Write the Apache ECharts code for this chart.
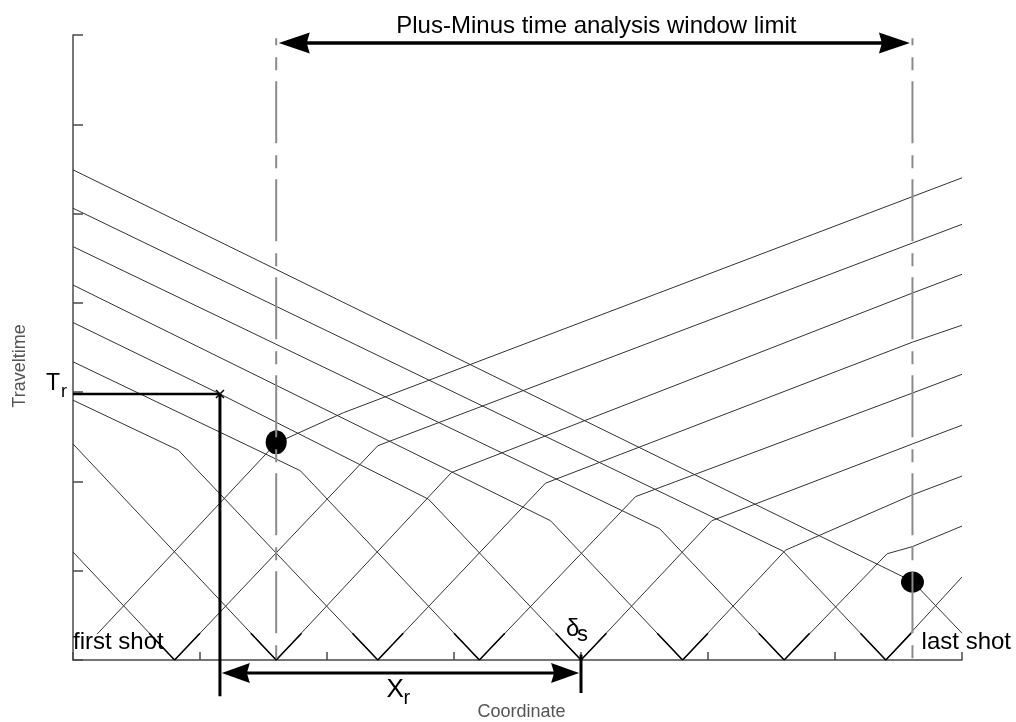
<!DOCTYPE html>
<html><head><meta charset="utf-8">
<script src="https://cdn.jsdelivr.net/npm/echarts@6/dist/echarts.min.js"></script>
<style>html,body{margin:0;padding:0;background:#fff}#c{width:1016px;height:722px}</style>
</head><body><div id="c"></div>
<script>
// ---- data (x: coordinate units, y: traveltime units) ----
const shotX = [0, 0.8, 1.6, 2.4, 3.2, 4.0, 4.8, 5.6, 6.4, 7.2];
const xTicks = [0, 1, 2, 3, 4, 5, 6, 7];
const yTicks = [0, 1, 2, 3, 4, 5, 6, 7];

// forward (right-going) traveltime branches, shot 0..8
const fwd0 = [[0.19,0.29],[1.6,2.43],[2.13,2.77],[6.61,5.19],[7.0,5.40]];
const fwd1 = [[0.8,0],[2.4,2.40],[6.61,4.67],[7.0,4.88]];
const fwd2 = [[1.6,0],[2.98,2.10],[6.61,4.11],[7.0,4.32]];
const fwd3 = [[2.4,0],[3.72,1.98],[6.61,3.56],[7.0,3.75]];
const fwd4 = [[3.2,0],[4.43,1.83],[6.61,2.99],[7.0,3.20]];
const fwd5 = [[4.0,0],[5.03,1.56],[6.61,2.42],[7.0,2.63]];
const fwd6 = [[4.8,0],[5.61,1.23],[6.61,1.85],[7.0,2.06]];
const fwd7 = [[5.6,0],[6.41,1.19],[6.61,1.27],[7.0,1.50]];
const fwd8 = [[6.4,0],[7.0,0.93]];

// reverse (left-going) traveltime branches, shot 1..9
const rev1 = [[0.8,0],[0,1.21]];
const rev2 = [[1.6,0],[0,2.42]];
const rev3 = [[2.4,0],[0.83,2.35],[0,2.91]];
const rev4 = [[3.2,0],[1.79,2.12],[0,3.34]];
const rev5 = [[4.0,0],[2.80,1.80],[1.157,2.98],[0,3.78]];
const rev6 = [[4.8,0],[3.76,1.56],[0,4.20]];
const rev7 = [[5.6,0],[4.62,1.47],[0,4.63]];
const rev8 = [[6.4,0],[5.59,1.22],[0,5.06]];
const rev9 = [[7.0,0.30],[6.61,0.88],[0,5.49]];

// darker segments right at each shot point
const apexV = [
  [[0.6,0.3],[0.8,0],[1.0,0.3]],
  [[1.4,0.3],[1.6,0],[1.8,0.3]],
  [[2.2,0.3],[2.4,0],[2.6,0.3]],
  [[3.0,0.3],[3.2,0],[3.4,0.3]],
  [[3.8,0.3],[4.0,0],[4.2,0.3]],
  [[4.6,0.3],[4.8,0],[5.0,0.3]],
  [[5.4,0.3],[5.6,0],[5.8,0.3]],
  [[6.2,0.3],[6.4,0],[6.6,0.3]]
];

// plus-minus window limits and the points where they meet the branches
const windowLimitX = [1.6, 6.61];
const windowTop = 6.965;
const windowPoints = [[1.6,2.44],[6.61,0.873]];

// receiver annotation
const receiverX = 1.157;
const receiverT = 2.98;
const deltaShotX = 4.0;

const forward = [fwd0,fwd1,fwd2,fwd3,fwd4,fwd5,fwd6,fwd7,fwd8];
const reverse = [rev1,rev2,rev3,rev4,rev5,rev6,rev7,rev8,rev9];

const FONT = '"Liberation Sans", Arial, Helvetica, sans-serif';
const chart = echarts.init(document.getElementById('c'), null, {renderer:'canvas'});

const series = [];
forward.concat(reverse).forEach(function(d){
  series.push({type:'line', data:d, symbol:'none', silent:true,
    lineStyle:{color:'#333', width:1}, z:2});
});
apexV.forEach(function(d){
  series.push({type:'line', data:d, symbol:'none', silent:true,
    lineStyle:{color:'#000', width:1.6}, z:3});
});
series.push({type:'scatter', data:[
  {value:windowPoints[0], symbolSize:[21,24]},
  {value:windowPoints[1], symbolSize:[23,21]}],
  itemStyle:{color:'#000', opacity:1}, silent:true, z:4});
windowLimitX.forEach(function(x){
  series.push({type:'line', data:[[x,windowTop],[x,0]], symbol:'none', silent:true,
    lineStyle:{color:'#8a8a8a', width:2, type:[62,12,13,11], dashOffset:55}, z:5});
});

const axisCommon = {
  type:'value', min:0, max:7, interval:1,
  axisLine:{show:true, onZero:false, lineStyle:{color:'#4a4a4a', width:1.5}},
  axisLabel:{show:false}, splitLine:{show:false}
};

chart.setOption({
  animation:false,
  backgroundColor:'#fff',
  grid:{left:73, right:54, top:35, bottom:62},
  xAxis:Object.assign({}, axisCommon, {axisTick:{show:true, inside:true, length:8, lineStyle:{color:'#4a4a4a', width:1.5}}}),
  yAxis:Object.assign({}, axisCommon, {axisTick:{show:true, inside:true, length:10, lineStyle:{color:'#4a4a4a', width:1.5}}}),
  series:series
});

function P(x,y){ return chart.convertToPixel({gridIndex:0},[x,y]); }
const g = [];
function seg(a,b,w){ g.push({type:'line', shape:{x1:a[0],y1:a[1],x2:b[0],y2:b[1]}, style:{stroke:'#000', lineWidth:w}, z:100}); }
function head(tip, dir, len, half){
  g.push({type:'polygon', shape:{points:[[tip[0],tip[1]],[tip[0]-dir*len,tip[1]-half],[tip[0]-dir*len+dir*3,tip[1]],[tip[0]-dir*len,tip[1]+half]]},
    style:{fill:'#000'}, z:100});
}
function txt(x,y,s,size,color,align,extra){
  g.push(Object.assign({type:'text', x:x, y:y, z:101, style:{text:s, font:size+'px '+FONT, fill:color||'#000', textAlign:align||'left', textVerticalAlign:'bottom'}}, extra||{}));
}

// top double arrow between window limits
const ty = 6.91;
const tL = P(windowLimitX[0]+0.02, ty), tR = P(windowLimitX[1]-0.02, ty);
seg([tL[0]+20,tL[1]],[tR[0]-20,tR[1]],3.5);
head(tL,-1,31,10.5); head(tR,1,31,10.5);
txt((tL[0]+tR[0])/2+2, tL[1]-5, 'Plus-Minus time analysis window limit', 24, '#000', 'center');

// receiver: horizontal Tr line, vertical line, cross mark
const rP = P(receiverX, receiverT);
const o = P(0, receiverT);
seg(o, rP, 2.5);
const rB = P(receiverX, -0.405);
seg(rP, rB, 3);
seg([rP[0]-4,rP[1]-4],[rP[0]+4,rP[1]+4],1.5);
seg([rP[0]-4,rP[1]+4],[rP[0]+4,rP[1]-4],1.5);
txt(o[0]-27, o[1]+1, 'T', 23, '#000');
txt(o[0]-12, o[1]+7, 'r', 18, '#000');

// Xr arrow from receiver to shot
const ay = -0.146;
const aL = P(receiverX+0.015, ay), aR = P(deltaShotX-0.015, ay);
seg([aL[0]+18,aL[1]],[aR[0]-18,aR[1]],3);
head(aL,-1,28,10); head(aR,1,28,10);
seg(P(deltaShotX,0.06), P(deltaShotX,-0.37), 3);
const xm = (aL[0]+aR[0])/2;
txt(xm-14, aL[1]+30, 'X', 26, '#000');
txt(xm+3, aL[1]+35, 'r', 20, '#000');

// delta_s label at the shot
const dP = P(deltaShotX, 0);
txt(dP[0]-15, dP[1]-19, '\u03b4', 24, '#000');
txt(dP[0]-4, dP[1]-14, 's', 22, '#000');

// first / last shot
const f0 = P(0,0), fE = P(7,0);
txt(f0[0], f0[1]-6, 'first shot', 24, '#000');
txt(fE[0]+49, fE[1]-6, 'last shot', 24, '#000', 'right');

// axis names
txt((f0[0]+fE[0])/2+4, 721, 'Coordinate', 18, '#555', 'center');
g.push({type:'text', x:20, y:366, rotation:Math.PI/2, z:101,
  style:{text:'Traveltime', font:'18px '+FONT, fill:'#555', textAlign:'center', textVerticalAlign:'middle'}});

chart.setOption({graphic:{elements:g}});
</script>
</body></html>
